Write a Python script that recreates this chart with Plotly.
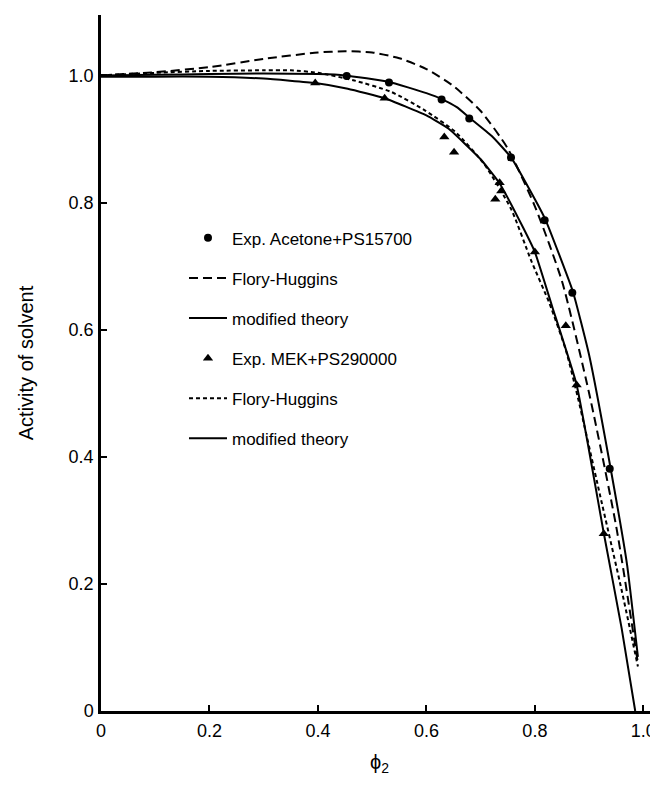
import plotly.graph_objects as go

# Experimental data
acetone_x = [0.453, 0.531, 0.628, 0.679, 0.756, 0.818, 0.869, 0.938]
acetone_y = [0.999, 0.989, 0.962, 0.932, 0.871, 0.772, 0.658, 0.381]

mek_x = [0.395, 0.523, 0.633, 0.651, 0.727, 0.735, 0.738, 0.800, 0.857, 0.877, 0.927]
mek_y = [0.988, 0.964, 0.903, 0.879, 0.805, 0.831, 0.818, 0.722, 0.606, 0.513, 0.279]

# Acetone + PS15700, Flory-Huggins
ac_fh_x = [0, 0.1, 0.2, 0.3, 0.4, 0.45, 0.5, 0.55, 0.6, 0.65, 0.7, 0.75, 0.8, 0.85, 0.9, 0.95, 0.99]
ac_fh_y = [1.000, 1.005, 1.013, 1.026, 1.036, 1.038, 1.036, 1.027, 1.010, 0.983, 0.944, 0.885, 0.794, 0.676, 0.500, 0.290, 0.075]

# Acetone + PS15700, modified theory
ac_mod_x = [0, 0.1, 0.2, 0.3, 0.4, 0.45, 0.53, 0.6, 0.63, 0.656, 0.68, 0.72, 0.756, 0.8, 0.82, 0.87, 0.9, 0.94, 0.97, 0.99]
ac_mod_y = [1.000, 1.001, 1.002, 1.003, 1.002, 1.000, 0.990, 0.972, 0.962, 0.950, 0.933, 0.905, 0.871, 0.805, 0.772, 0.660, 0.560, 0.380, 0.230, 0.085]

# MEK + PS290000, Flory-Huggins
mek_fh_x = [0, 0.1, 0.2, 0.3, 0.35, 0.4, 0.467, 0.535, 0.597, 0.652, 0.706, 0.756, 0.793, 0.827, 0.857, 0.879, 0.92, 0.96, 0.99]
mek_fh_y = [1.000, 1.004, 1.007, 1.008, 1.008, 1.004, 0.992, 0.974, 0.945, 0.912, 0.861, 0.790, 0.709, 0.641, 0.568, 0.494, 0.340, 0.190, 0.070]

# MEK + PS290000, modified theory
mek_mod_x = [0, 0.1, 0.2, 0.3, 0.395, 0.455, 0.523, 0.6, 0.641, 0.7, 0.735, 0.778, 0.8, 0.832, 0.877, 0.927, 0.96, 0.985]
mek_mod_y = [0.998, 0.998, 0.998, 0.995, 0.988, 0.979, 0.964, 0.937, 0.916, 0.868, 0.830, 0.761, 0.722, 0.636, 0.513, 0.280, 0.130, 0.0]

tick_vals = [0, 0.2, 0.4, 0.6, 0.8, 1.0]
tick_text = ["0", "0.2", "0.4", "0.6", "0.8", "1.0"]

FONT = "Liberation Sans, Arial, sans-serif"

fig = go.Figure()
fig.add_trace(go.Scatter(x=acetone_x, y=acetone_y, mode="markers", name="Exp. Acetone+PS15700",
                         marker=dict(symbol="circle", size=8, color="black"), legendgroup="a"))
fig.add_trace(go.Scatter(x=ac_fh_x, y=ac_fh_y, mode="lines", name="Flory-Huggins",
                         line=dict(color="black", width=2, dash="9px,5px", shape="spline", smoothing=0.6), legendgroup="b"))
fig.add_trace(go.Scatter(x=ac_mod_x, y=ac_mod_y, mode="lines", name="modified theory",
                         line=dict(color="black", width=2, shape="spline", smoothing=0.4), legendgroup="c"))
fig.add_trace(go.Scatter(x=mek_x, y=mek_y, mode="markers", name="Exp. MEK+PS290000",
                         marker=dict(symbol="triangle-up", size=9, color="black"), legendgroup="d"))
fig.add_trace(go.Scatter(x=mek_fh_x, y=mek_fh_y, mode="lines", name="Flory-Huggins",
                         line=dict(color="black", width=2, dash="4px,3px", shape="spline", smoothing=0.6), legendgroup="e"))
fig.add_trace(go.Scatter(x=mek_mod_x, y=mek_mod_y, mode="lines", name="modified theory",
                         line=dict(color="black", width=2, shape="spline", smoothing=0.4), legendgroup="f"))

axis_common = dict(
    showgrid=False, zeroline=False, showline=True, linecolor="black", linewidth=2.5,
    ticks="inside", ticklen=6, tickwidth=2, tickcolor="black",
    tickvals=tick_vals, ticktext=tick_text,
    tickfont=dict(family=FONT, size=18, color="black"),
    ticklabeloverflow="allow",
)

# The page body adds an 8px margin; the figure is sized so no scrollbars appear in the 658x792 window.
fig.update_layout(
    width=650, height=768,
    margin=dict(l=93, r=0, t=7, b=65),
    paper_bgcolor="white", plot_bgcolor="white",
    font=dict(family=FONT, color="black"),
    xaxis=dict(range=[0, 1.027], title=dict(text="ϕ<sub>2</sub>", font=dict(family=FONT, size=20), standoff=20),
               ticklabelstandoff=2, **axis_common),
    yaxis=dict(range=[0, 1.095], title=dict(text="Activity of solvent", font=dict(family=FONT, size=20), standoff=30),
               ticklabelstandoff=1, **axis_common),
    legend=dict(x=0.149, y=0.705, xanchor="left", yanchor="top", bgcolor="rgba(0,0,0,0)",
                font=dict(family=FONT, size=17, color="black"), tracegroupgap=15, borderwidth=0,
                itemwidth=38),
    showlegend=True,
)

fig.write_html("out.html")
